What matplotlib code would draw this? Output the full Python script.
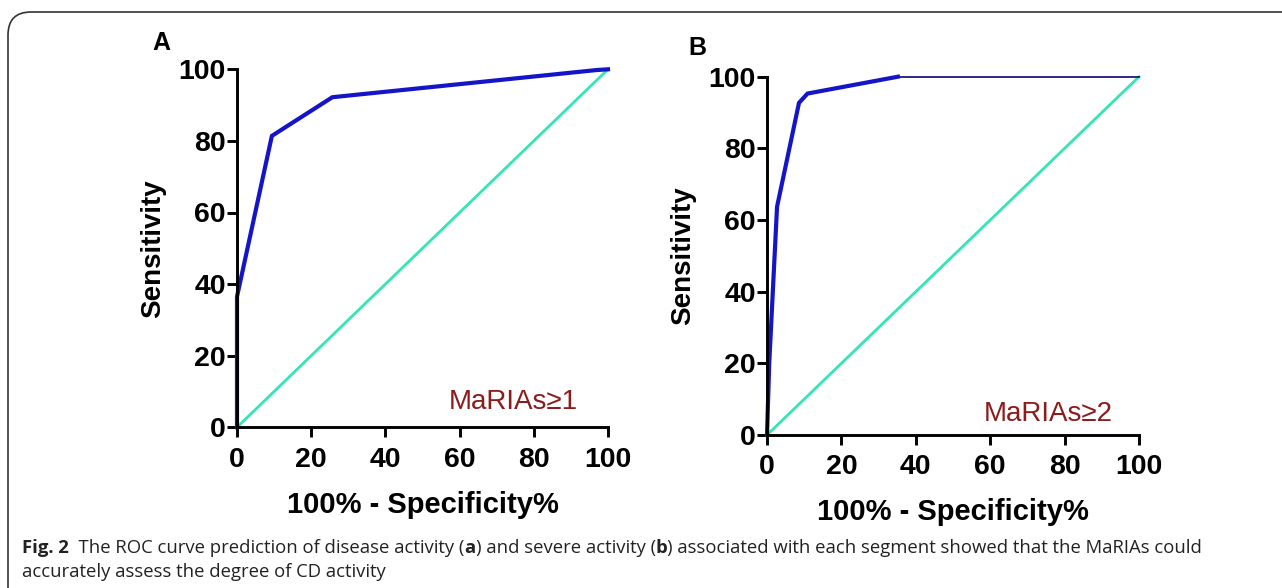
import matplotlib
matplotlib.use("Agg")
import matplotlib.pyplot as plt
from matplotlib.patches import FancyBboxPatch

# ROC curve points (x = 100% - specificity%, y = sensitivity)
roc_a_x = [0, 0, 9.4, 25.7, 97, 100]
roc_a_y = [0, 36.5, 81.4, 92.2, 99.8, 100]

roc_b_x = [0, 0.6, 2.7, 8.6, 10.9, 35.2]
roc_b_y = [0, 20, 63.7, 92.7, 95.3, 100]
roc_b_tail_x = [35.2, 100]
roc_b_tail_y = [100, 100]

ref_x = [0, 100]
ref_y = [0, 100]

ticks = [0, 20, 40, 60, 80, 100]
panels = ["A", "B"]
labels = ["MaRIAs\u22651", "MaRIAs\u22652"]

caption_line1 = [("Fig. 2", "bold"), ("  The ROC curve prediction of disease activity (", "normal"),
                 ("a", "bold"), (") and severe activity (", "normal"), ("b", "bold"),
                 (") associated with each segment showed that the MaRIAs could", "normal")]
caption_line2 = [("accurately assess the degree of CD activity", "normal")]

W, H = 1282, 588
fig = plt.figure(figsize=(W / 100, H / 100), dpi=100)
plt.rcParams['font.family'] = ['Liberation Sans', 'DejaVu Sans']

BLUE = "#1414c8"
TEAL = "#33e6b4"
RED = "#8b1c1c"

# frame with rounded corner, running off the right and bottom edges
frame = FancyBboxPatch((8 / W, -0.2), 1.2, (H - 12) / H + 0.2,
                       boxstyle="round,pad=0,rounding_size=0.018",
                       transform=fig.transFigure, fill=False,
                       edgecolor="#333333", linewidth=1.2, mutation_aspect=W / H)
fig.patches.append(frame)


def style_axes(ax):
    ax.set_xlim(0, 100)
    ax.set_ylim(0, 100)
    ax.set_xticks(ticks)
    ax.set_yticks(ticks)
    for s in ["top", "right"]:
        ax.spines[s].set_visible(False)
    for s in ["left", "bottom"]:
        ax.spines[s].set_linewidth(2.1)
    ax.tick_params(direction="out", length=7, width=2.1, labelsize=20.5)
    ax.tick_params(axis="y", pad=1)
    ax.tick_params(axis="x", pad=7)
    for lab in ax.get_xticklabels() + ax.get_yticklabels():
        lab.set_fontweight("bold")
    ax.set_xlabel("100% - Specificity%", fontsize=21, fontweight="bold", labelpad=13)
    ax.set_ylabel("Sensitivity", fontsize=20, fontweight="bold", labelpad=9)
    ax.patch.set_alpha(0)


ax1 = fig.add_axes([237 / W, 1 - 427.3 / H, 371 / W, 358 / H])
ax1.plot(ref_x, ref_y, color=TEAL, lw=2.0, clip_on=False)
ax1.plot(roc_a_x, roc_a_y, color=BLUE, lw=3.0, clip_on=False, solid_joinstyle="miter")
style_axes(ax1)
ax1.text(92, 3.3, labels[0], color=RED, fontsize=20, ha="right", va="bottom")

ax2 = fig.add_axes([767 / W, 1 - 435 / H, 372 / W, 358.3 / H])
ax2.plot(ref_x, ref_y, color=TEAL, lw=2.0, clip_on=False)
ax2.plot(roc_b_tail_x, roc_b_tail_y, color="#1a1a80", lw=1.3, clip_on=False)
ax2.plot(roc_b_x, roc_b_y, color=BLUE, lw=3.0, clip_on=False, solid_joinstyle="miter")
style_axes(ax2)
ax2.text(93, 2.1, labels[1], color=RED, fontsize=20, ha="right", va="bottom")

fig.text(161 / W, 1 - 50 / H, panels[0], fontsize=18, fontweight="bold", ha="center", va="baseline")
fig.text(697 / W, 1 - 55 / H, panels[1], fontsize=18, fontweight="bold", ha="center", va="baseline")

# caption, built run by run so bold pieces sit inline
renderer = fig.canvas.get_renderer()
cap_font = ['Open Sans', 'DejaVu Sans']


def draw_runs(runs, x_px, y_px, size):
    x = x_px
    for txt, weight in runs:
        t = fig.text(x / W, 1 - y_px / H, txt, fontsize=size, fontweight=weight,
                     family=cap_font, ha="left", va="baseline", color="#222222")
        bb = t.get_window_extent(renderer=renderer)
        x += bb.width


draw_runs(caption_line1, 22, 553, 13.3)
draw_runs(caption_line2, 22, 577, 13.3)

fig.savefig("out.png", dpi=100)
